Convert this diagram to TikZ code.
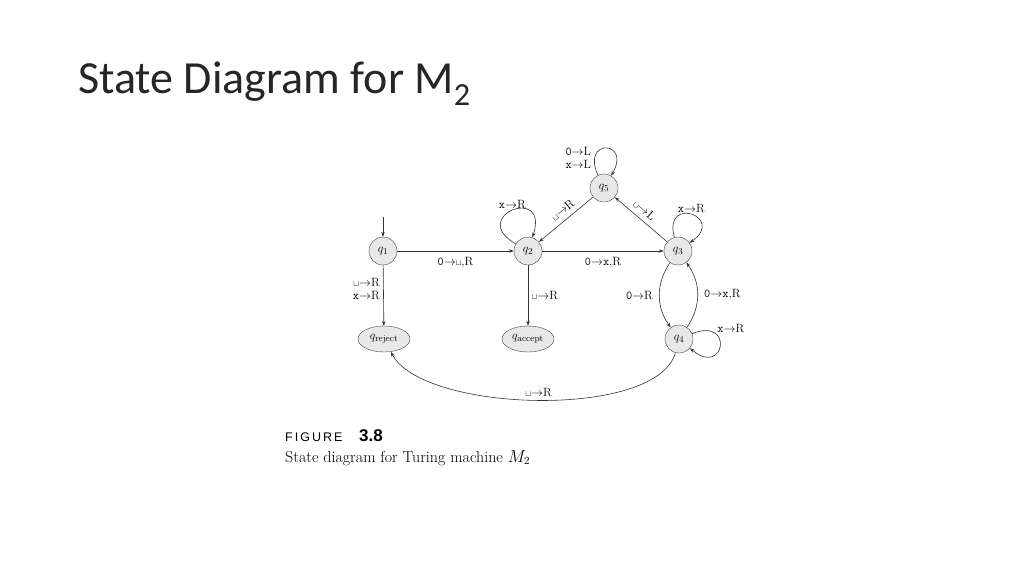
\documentclass[tikz,border=0pt]{standalone}
\usepackage{fontspec}
\newfontfamily\titlefont{Carlito}
\newfontfamily\figfont[LetterSpace=16]{Liberation Sans}
\newfontfamily\numfont{Liberation Sans}
\usetikzlibrary{arrows.meta,shapes.geometric}

\newcommand{\tmz}{\texttt{0}}
\newcommand{\tmx}{\texttt{x}}
\newcommand{\tmb}{$\scriptstyle\sqcup$}

\tikzset{
  state/.style = {shape=circle, draw=black!75, fill=black!9,
                  minimum size=28pt, inner sep=0pt,
                  font=\fontsize{13}{13}\selectfont},
  halt/.style  = {state, shape=ellipse, minimum width=52pt, minimum height=26pt},
  trans/.style = {draw=black!80, line width=0.6pt,
                  -{Stealth[length=5pt,width=3.5pt]},
                  font=\fontsize{12}{13}\selectfont}
}

\begin{document}
\begin{tikzpicture}[x=1pt, y=1pt]
\useasboundingbox (0,0) rectangle (1024,-576);
\node[anchor=base west, inner sep=0pt, text=black!85,
      font=\titlefont\fontsize{46}{46}\selectfont]
  (title) at (78,-93) {State Diagram for M\textsubscript{2}};

\node[state] (q1) at (383,-251) {$q_1$};
\node[state] (q2) at (528,-251) {$q_2$};
\node[state] (q3) at (678,-251) {$q_3$};
\node[state] (q4) at (679,-339) {$q_4$};
\node[state] (q5) at (604,-188) {$q_5$};
\node[halt]  (rej) at (384,-339) {$q_{\mathrm{reject}}$};
\node[halt]  (acc) at (528,-339) {$q_{\mathrm{accept}}$};
\coordinate (start) at (383,-217);

\draw[trans] (start) -- (q1);
\draw[trans] (q1) -- node[below=3pt] {\tmz$\to$\tmb,R} (q2);
\draw[trans] (q2) -- node[below=3pt] {\tmz$\to$\tmx,R} (q3);
\draw[trans] (q3) -- node[pos=0.55, above=5pt, sloped, inner sep=0pt] {\tmb$\to$L} (q5);
\draw[trans] (q5) -- node[pos=0.45, above=5pt, sloped, inner sep=0pt] {\tmb$\to$R} (q2);
\draw[trans] (q1) -- node[left, align=right, pos=0.4] {\tmb$\to$R\\\tmx$\to$R} (rej);
\draw[trans] (q2) -- node[right] {\tmb$\to$R} (acc);
\draw[trans] (q3) to[bend right=35] node[left=3pt] {\tmz$\to$R} (q4);
\draw[trans] (q4) to[bend right=35] node[right=3pt] {\tmz$\to$\tmx,R} (q3);
\draw[trans] (q2) to[loop, out=150, in=72, looseness=8] node[above, inner sep=1pt] {\tmx$\to$R} (q2);
\draw[trans] (q3) to[loop, out=105, in=35, looseness=7] node[above, inner sep=1pt] {\tmx$\to$R} (q3);
\draw[trans] (q5) to[loop, out=115, in=60, looseness=8]
  node[pos=0.2, left, align=right] {\tmz$\to$L\\\tmx$\to$L} (q5);
\draw[trans] (q4) to[loop, out=22, in=-40, looseness=8]
  node[pos=0.28, above right, inner sep=1pt] {\tmx$\to$R} (q4);
\draw[trans] (q4) to[out=-105, in=-62, looseness=0.62] node[above] {\tmb$\to$R} (rej);

\node[anchor=base west, inner sep=0pt, font=\figfont\fontsize{12.5}{12.5}\selectfont]
  (fig) at (285,-441) {FIGURE};
\node[anchor=base west, inner sep=0pt, font=\numfont\bfseries\fontsize{17}{17}\selectfont]
  (num) at (359,-441) {3.8};
\node[anchor=base west, inner sep=0pt, font=\fontsize{16}{16}\selectfont]
  (cap) at (285,-462) {State diagram for Turing machine $M_2$};
\end{tikzpicture}
\end{document}
